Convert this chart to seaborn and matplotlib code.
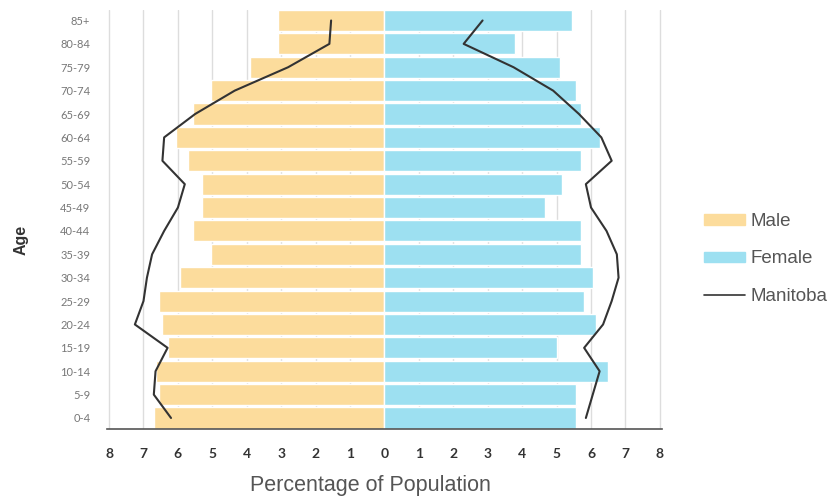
import pandas as pd
import matplotlib.pyplot as plt
import seaborn as sns
from matplotlib.patches import Patch
from matplotlib.lines import Line2D

# Tranches d'âge (du haut vers le bas)
ages = ['85+', '80-84', '75-79', '70-74', '65-69', '60-64', '55-59', '50-54', '45-49',
        '40-44', '35-39', '30-34', '25-29', '20-24', '15-19', '10-14', '5-9', '0-4']
male = [3.1, 3.1, 3.9, 5.05, 5.55, 6.05, 5.7, 5.3, 5.3,
        5.55, 5.05, 5.95, 6.55, 6.45, 6.3, 6.65, 6.55, 6.7]
female = [5.45, 3.8, 5.1, 5.55, 5.7, 6.25, 5.7, 5.15, 4.65,
          5.7, 5.7, 6.05, 5.8, 6.15, 5.0, 6.5, 5.55, 5.55]
manitoba_male = [1.55, 1.6, 2.8, 4.35, 5.5, 6.4, 6.45, 5.8, 6.0,
                 6.4, 6.75, 6.9, 7.0, 7.25, 6.3, 6.65, 6.7, 6.2]
manitoba_female = [2.85, 2.3, 3.75, 4.9, 5.65, 6.3, 6.6, 5.85, 6.0,
                   6.45, 6.75, 6.8, 6.6, 6.35, 5.8, 6.25, 6.05, 5.85]

c_male = '#FCDC9C'
c_female = '#9DE0F1'
c_line = '#333333'

df = pd.DataFrame({'age': ages, 'male': [-v for v in male], 'female': female})
df_line = pd.DataFrame({'age_idx': range(len(ages)),
                        'mb_male': [-v for v in manitoba_male],
                        'mb_female': manitoba_female})

sns.set_style('white')
plt.rcParams['font.family'] = ['Lato', 'DejaVu Sans']

fig = plt.figure(figsize=(8.32, 4.98), dpi=100)
ax = fig.add_axes([0.1286, 0.1386, 0.667, 0.8414])

# grille verticale
for v in range(-8, 9):
    if v != 0:
        ax.axvline(v, color='#dddddd', lw=1, zorder=0)

sns.barplot(data=df, x='male', y='age', order=ages, color=c_male, width=0.9,
            orient='h', ax=ax, saturation=1, zorder=2)
sns.barplot(data=df, x='female', y='age', order=ages, color=c_female, width=0.9,
            orient='h', ax=ax, saturation=1, zorder=2)

sns.lineplot(data=df_line, x='mb_male', y='age_idx', sort=False, estimator=None,
             color=c_line, lw=1.5, ax=ax, zorder=3)
sns.lineplot(data=df_line, x='mb_female', y='age_idx', sort=False, estimator=None,
             color=c_line, lw=1.5, ax=ax, zorder=3)

ax.set_xlim(-8.06, 8.06)
ax.set_ylim(len(ages) - 0.53, -0.45)
ax.set_xticks(range(-8, 9))
ax.set_xticklabels([str(abs(v)) for v in range(-8, 9)], fontsize=10,
                   fontweight='bold', color='#333333')
ax.set_yticks(range(len(ages)))
ax.set_yticklabels(ages, fontsize=8, color='#777777')
ax.tick_params(axis='x', length=0, pad=14)
ax.tick_params(axis='y', length=0, pad=12)

for s in ['top', 'right', 'left']:
    ax.spines[s].set_visible(False)
ax.spines['bottom'].set_color('#555555')
ax.spines['bottom'].set_linewidth(1.2)

ax.set_xlabel('Percentage of Population', fontsize=15.5, color='#555555',
              family='Liberation Sans', va='center')
ax.xaxis.set_label_coords(0.474, -0.136)
ax.set_ylabel('Age', fontsize=11.5, fontweight='bold', color='#333333',
              family='Liberation Sans')
ax.yaxis.set_label_coords(-0.142, 0.45)

handles = [Patch(color=c_male, label='Male'),
           Patch(color=c_female, label='Female'),
           Line2D([0], [0], color=c_line, lw=1.2, label='Manitoba')]
fig.legend(handles=handles, loc='center left', bbox_to_anchor=(0.846, 0.48),
           frameon=False, handlelength=2.2, handleheight=0.45,
           labelspacing=1.08, handletextpad=0.28, borderpad=0, borderaxespad=0,
           labelcolor='#555555', prop={'family': 'Liberation Sans', 'size': 13.5})

plt.savefig('out.png', dpi=100)
plt.close()
